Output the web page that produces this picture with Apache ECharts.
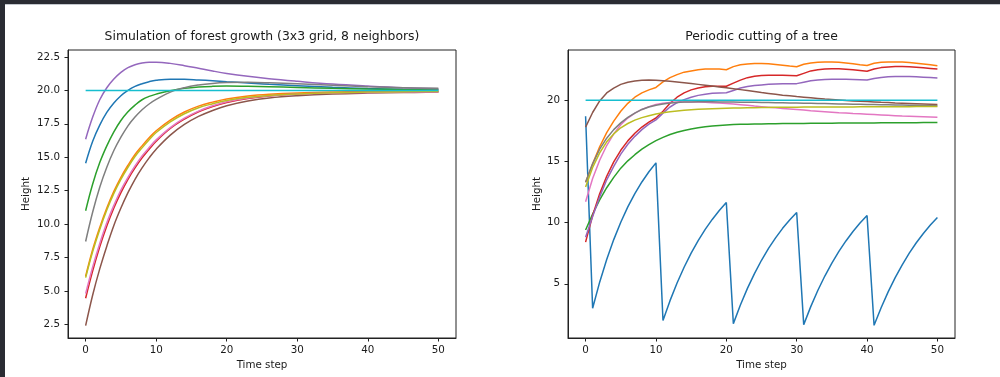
<!DOCTYPE html>
<html>
<head>
<meta charset="utf-8">
<script src="https://cdn.jsdelivr.net/npm/echarts@6/dist/echarts.min.js"></script>
<style>
html,body{margin:0;padding:0;background:#fff;}
#chart{width:1000px;height:377px;}
</style>
</head>
<body>
<div id="chart"></div>
<script>
// ---------- data ----------
const LEFT_TITLE = 'Simulation of forest growth (3x3 grid, 8 neighbors)';
const RIGHT_TITLE = 'Periodic cutting of a tree';
const X_NAME = 'Time step';
const Y_NAME = 'Height';

const X_TICKS = [0, 10, 20, 30, 40, 50];
const LEFT_Y_TICKS = [2.5, 5, 7.5, 10, 12.5, 15, 17.5, 20, 22.5];
const RIGHT_Y_TICKS = [5, 10, 15, 20];

const T_LEFT = [0,1,2,3,4,5,6,7,8,9,10,12,14,16,18,20,23,26,30,35,40,45,50];
const L_BLUE   = [14.55,16.2,17.4,18.35,19.05,19.6,20.0,20.3,20.5,20.65,20.75,20.83,20.83,20.78,20.72,20.65,20.55,20.45,20.35,20.23,20.14,20.08,20.04];
const L_ORANGE = [6.1,8.1,9.75,11.2,12.45,13.5,14.4,15.2,15.85,16.45,16.98,17.78,18.38,18.82,19.12,19.36,19.58,19.71,19.81,19.88,19.92,19.94,19.95];
const L_GREEN  = [11.0,13.0,14.6,15.85,16.9,17.75,18.4,18.9,19.3,19.55,19.72,19.98,20.15,20.25,20.3,20.32,20.3,20.27,20.22,20.15,20.1,20.07,20.05];
const L_RED    = [4.45,6.5,8.3,9.85,11.2,12.35,13.35,14.2,14.95,15.6,16.2,17.15,17.85,18.4,18.8,19.1,19.4,19.58,19.72,19.81,19.86,19.88,19.9];
const L_PURPLE = [16.35,18.0,19.3,20.2,20.85,21.35,21.7,21.92,22.05,22.1,22.1,22.02,21.85,21.65,21.45,21.27,21.05,20.87,20.68,20.47,20.32,20.2,20.13];
const L_BROWN  = [2.4,4.7,6.65,8.35,9.9,11.2,12.35,13.35,14.2,14.95,15.6,16.65,17.45,18.05,18.5,18.85,19.2,19.43,19.6,19.73,19.8,19.84,19.87];
const L_PINK   = [4.8,6.8,8.55,10.1,11.4,12.55,13.5,14.35,15.1,15.72,16.3,17.22,17.92,18.45,18.85,19.15,19.43,19.6,19.73,19.81,19.85,19.87,19.88];
const L_GRAY   = [8.7,10.9,12.75,14.25,15.5,16.5,17.35,18.0,18.55,18.98,19.32,19.87,20.2,20.4,20.52,20.58,20.6,20.57,20.5,20.38,20.27,20.2,20.15];
const L_OLIVE  = [6.0,7.95,9.6,11.05,12.3,13.35,14.25,15.05,15.7,16.3,16.85,17.65,18.25,18.7,19.0,19.25,19.48,19.62,19.73,19.82,19.87,19.9,19.92];
const L_CYAN   = [20,20,20,20,20,20,20,20,20,20,20,20,20,20,20,20,20,20,20,20,20,20,20];

const T_RIGHT = [0,1,2,3,4,5,6,7,8,9,10,11,12,13,14,15,16,17,18,19,20,21,22,23,24,25,26,27,28,29,30,31,32,33,34,35,36,37,38,39,40,41,42,43,44,45,46,47,48,49,50];
const R_BLUE   = [18.7,3.0,5.13,6.98,8.61,10.03,11.28,12.37,13.32,14.16,14.88,2.0,3.62,5.06,6.35,7.5,8.53,9.44,10.26,10.99,11.64,1.74,3.26,4.62,5.83,6.92,7.89,8.75,9.53,10.22,10.83,1.66,3.13,4.45,5.63,6.69,7.65,8.5,9.27,9.96,10.58,1.6,3.04,4.34,5.5,6.55,7.5,8.35,9.11,9.8,10.42];
const R_ORANGE = [13.3,14.8,16.2,17.35,18.3,19.1,19.75,20.25,20.6,20.85,21.05,21.5,21.85,22.1,22.3,22.4,22.5,22.55,22.55,22.55,22.5,22.75,22.9,22.97,23.0,23.0,22.98,22.93,22.87,22.8,22.74,22.95,23.05,23.1,23.12,23.12,23.1,23.05,22.98,22.9,22.85,23.02,23.1,23.13,23.13,23.12,23.08,23.02,22.96,22.9,22.83];
const R_GREEN  = [9.4,10.7,11.85,12.85,13.7,14.45,15.05,15.55,16.0,16.38,16.7,16.97,17.2,17.38,17.53,17.65,17.75,17.83,17.89,17.94,17.98,18.01,18.03,18.05,18.06,18.07,18.08,18.09,18.1,18.1,18.11,18.11,18.12,18.12,18.13,18.13,18.14,18.14,18.14,18.15,18.15,18.15,18.16,18.16,18.16,18.17,18.17,18.17,18.18,18.18,18.18];
const R_RED    = [8.4,10.58,12.35,13.79,14.96,15.91,16.68,17.3,17.81,18.22,18.55,19.1,19.75,20.25,20.6,20.85,21.0,21.1,21.15,21.15,21.15,21.4,21.65,21.85,21.97,22.02,22.05,22.05,22.04,22.02,22.0,22.2,22.4,22.5,22.56,22.58,22.57,22.54,22.5,22.44,22.38,22.55,22.67,22.73,22.76,22.76,22.74,22.7,22.65,22.6,22.55];
const R_PURPLE = [8.8,10.5,12.1,13.5,14.6,15.6,16.4,17.05,17.6,18.05,18.4,18.95,19.45,19.8,20.05,20.25,20.4,20.5,20.57,20.6,20.62,20.8,21.0,21.12,21.2,21.25,21.3,21.33,21.35,21.36,21.36,21.48,21.6,21.66,21.7,21.72,21.72,21.72,21.7,21.68,21.66,21.78,21.87,21.92,21.94,21.95,21.94,21.92,21.89,21.86,21.82];
const R_BROWN  = [17.8,19.0,19.95,20.6,21.0,21.3,21.48,21.58,21.63,21.65,21.64,21.6,21.55,21.5,21.44,21.37,21.3,21.23,21.16,21.09,21.02,20.95,20.87,20.79,20.71,20.63,20.56,20.49,20.42,20.36,20.3,20.25,20.2,20.15,20.1,20.06,20.02,19.98,19.95,19.92,19.89,19.86,19.83,19.81,19.78,19.76,19.74,19.72,19.7,19.68,19.66];
const R_PINK   = [11.7,13.6,15.1,16.3,17.25,18.0,18.55,18.95,19.25,19.48,19.65,19.75,19.82,19.85,19.86,19.86,19.85,19.83,19.8,19.77,19.73,19.69,19.64,19.59,19.53,19.48,19.43,19.38,19.33,19.29,19.25,19.2,19.15,19.11,19.07,19.03,18.99,18.96,18.92,18.89,18.86,18.83,18.8,18.77,18.74,18.71,18.69,18.67,18.65,18.63,18.61];
const R_GRAY   = [13.3,14.8,16.0,16.9,17.6,18.15,18.6,18.95,19.25,19.45,19.6,19.7,19.78,19.82,19.85,19.86,19.87,19.87,19.87,19.86,19.85,19.85,19.84,19.84,19.83,19.82,19.81,19.8,19.79,19.78,19.77,19.76,19.75,19.74,19.73,19.72,19.7,19.69,19.68,19.67,19.66,19.65,19.64,19.63,19.62,19.61,19.6,19.59,19.58,19.57,19.56];
const R_OLIVE  = [12.9,14.5,15.7,16.6,17.25,17.75,18.1,18.38,18.58,18.74,18.87,18.98,19.06,19.13,19.18,19.22,19.26,19.29,19.31,19.33,19.35,19.36,19.37,19.38,19.39,19.4,19.41,19.42,19.42,19.43,19.43,19.44,19.44,19.45,19.45,19.45,19.46,19.46,19.46,19.47,19.47,19.47,19.47,19.48,19.48,19.48,19.48,19.49,19.49,19.49,19.5];
const R_CYAN   = [20,20,20,20,20,20,20,20,20,20,20,20,20,20,20,20,20,20,20,20,20,20,20,20,20,20,20,20,20,20,20,20,20,20,20,20,20,20,20,20,20,20,20,20,20,20,20,20,20,20,20];

// ---------- styling ----------
const COLORS = ['#1f77b4','#ff7f0e','#2ca02c','#d62728','#9467bd','#8c564b','#e377c2','#7f7f7f','#bcbd22','#17becf'];
const FONT = 'DejaVu Sans';
const TXT = '#1a1a1a';

function mk(T, vals, color, gi, smooth) {
  return {
    type: 'line', xAxisIndex: gi, yAxisIndex: gi,
    data: T.map((t, i) => [t, vals[i]]),
    showSymbol: false, symbol: 'none',
    smooth: smooth,
    lineStyle: { width: 1.5, color: color },
    itemStyle: { color: color },
    silent: true, animation: false
  };
}

function xAx(gi) {
  return {
    gridIndex: gi, type: 'value', min: -2.5, max: 52.5,
    name: X_NAME, nameLocation: 'middle', nameGap: 22,
    nameTextStyle: { fontFamily: FONT, fontSize: 10.3, color: TXT },
    axisLine: { show: true, onZero: false, lineStyle: { color: '#222', width: 1 } },
    axisTick: { show: true, length: 3.5, lineStyle: { color: '#222', width: 1 }, customValues: X_TICKS },
    axisLabel: { customValues: X_TICKS, fontFamily: FONT, fontSize: 10.3, color: TXT, margin: 7 },
    splitLine: { show: false }
  };
}
function yAx(gi, min, max, ticks, fmt, gap) {
  return {
    gridIndex: gi, type: 'value', min: min, max: max,
    name: Y_NAME, nameLocation: 'middle', nameGap: gap,
    nameTextStyle: { fontFamily: FONT, fontSize: 10.3, color: TXT },
    axisLine: { show: true, onZero: false, lineStyle: { color: '#222', width: 1 } },
    axisTick: { show: true, length: 3.5, lineStyle: { color: '#222', width: 1 }, customValues: ticks },
    axisLabel: { customValues: ticks, fontFamily: FONT, fontSize: 10.3, color: TXT, margin: 8, formatter: fmt },
    splitLine: { show: false }
  };
}

const LEFT = [L_BLUE, L_ORANGE, L_GREEN, L_RED, L_PURPLE, L_BROWN, L_PINK, L_GRAY, L_OLIVE, L_CYAN];
const RIGHT = [R_BLUE, R_ORANGE, R_GREEN, R_RED, R_PURPLE, R_BROWN, R_PINK, R_GRAY, R_OLIVE, R_CYAN];

const series = [];
LEFT.forEach((v, i) => series.push(mk(T_LEFT, v, COLORS[i], 0, 0.4)));
RIGHT.forEach((v, i) => series.push(mk(T_RIGHT, v, COLORS[i], 1, false)));

const chart = echarts.init(document.getElementById('chart'), null, { renderer: 'canvas' });
chart.setOption({
  animation: false,
  backgroundColor: '#ffffff',
  grid: [
    { left: 68, top: 50, width: 388, height: 288, show: true, borderColor: '#222', borderWidth: 1, backgroundColor: 'transparent' },
    { left: 568, top: 50, width: 387, height: 288, show: true, borderColor: '#222', borderWidth: 1, backgroundColor: 'transparent' }
  ],
  xAxis: [xAx(0), xAx(1)],
  yAxis: [
    yAx(0, 1.48, 23.02, LEFT_Y_TICKS, v => Number(v).toFixed(1), 37),
    yAx(1, 0.565, 24.11, RIGHT_Y_TICKS, v => String(Math.round(v)), 26)
  ],
  graphic: [
    { type: 'rect', shape: { x: 0, y: 0, width: 1000, height: 4 }, style: { fill: '#2a2c33' }, silent: true },
    { type: 'rect', shape: { x: 0, y: 0, width: 5, height: 377 }, style: { fill: '#2a2c33' }, silent: true },
    { type: 'rect', shape: { x: 5, y: 4, width: 995, height: 1 }, style: { fill: '#c3c8ce' }, silent: true },
    { type: 'text', x: 262, y: 37, style: { text: LEFT_TITLE, font: '12.4px "DejaVu Sans"', fill: TXT, align: 'center', verticalAlign: 'middle' }, silent: true },
    { type: 'text', x: 761.5, y: 37, style: { text: RIGHT_TITLE, font: '12.4px "DejaVu Sans"', fill: TXT, align: 'center', verticalAlign: 'middle' }, silent: true }
  ],
  series: series
});
</script>
</body>
</html>
